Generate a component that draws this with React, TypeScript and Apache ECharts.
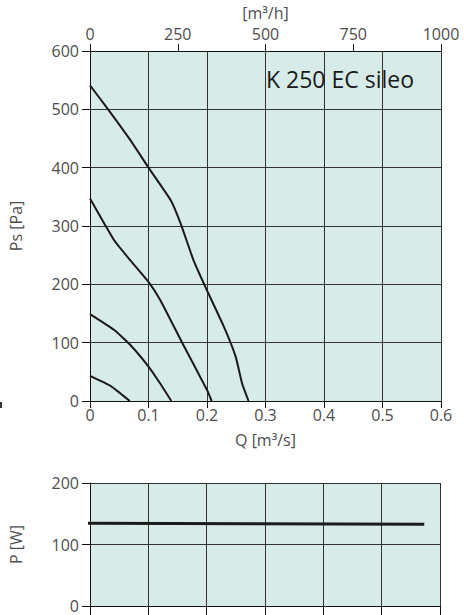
import React, { useEffect, useRef } from "react";
import * as echarts from "echarts";

// Pressure curves: [Q m³/s, Ps Pa]
const curve1: number[][] = [[0, 541], [0.03, 501], [0.069, 447], [0.1, 400], [0.138, 344], [0.155, 304], [0.177, 241], [0.197, 196], [0.229, 127], [0.249, 76], [0.26, 30], [0.271, 0]];
const curve2: number[][] = [[0, 347], [0.041, 276], [0.069, 241], [0.1, 204], [0.12, 173], [0.158, 99], [0.2, 19], [0.208, 0]];
const curve3: number[][] = [[0, 149], [0.041, 122], [0.069, 96], [0.1, 59], [0.12, 30], [0.139, 0]];
const curve4: number[][] = [[0, 43], [0.035, 26], [0.052, 13], [0.068, 0]];
// Power curve: [Q m³/s, P W]
const power: number[][] = [[-0.005, 134.5], [0.573, 133]];

const qTicks = { min: 0, max: 0.6, interval: 0.1 };
const flowTicks = { min: 0, max: 1000, interval: 250 };
const psTicks = { min: 0, max: 600, interval: 100 };
const pTicks = { min: 0, max: 200, interval: 100 };
const titleText = "K 250 EC sileo";

const FONT = "Open Sans";
const LABEL = "#4d4d4d";
const GRID = "#333";
const BG = "#d7ece8";

export default function App() {
  const ref = useRef<HTMLDivElement>(null);
  useEffect(() => {
    if (!ref.current) return;
    const chart = echarts.init(ref.current, null, { renderer: "svg" });
    const axisLabel = { color: LABEL, fontFamily: FONT, fontSize: 16, formatter: (v: number) => String(v) };
    const lineStyle = { color: "#111", width: 1 };
    const split = { show: true, lineStyle: { color: GRID, width: 1 } };
    const nameStyle = { color: LABEL, fontFamily: FONT, fontSize: 16 };
    const curveSeries = (data: number[][]) => ({
      type: "line",
      xAxisIndex: 0,
      yAxisIndex: 0,
      data,
      symbol: "none",
      smooth: 0.15,
      lineStyle: { color: "#1a1a1a", width: 2 },
    });
    chart.setOption({
      animation: false,
      textStyle: { fontFamily: FONT },
      title: {
        text: titleText,
        left: 261,
        top: 62,
        textStyle: { fontFamily: FONT, fontSize: 23, fontWeight: "normal", color: "#1a1a1a" },
      },
      grid: [
        { left: 89, top: 50, width: 352, height: 351, show: true, backgroundColor: BG, borderWidth: 0 },
        { left: 88, top: 483, width: 352, height: 123, show: true, backgroundColor: BG, borderWidth: 0 },
      ],
      xAxis: [
        {
          type: "value", gridIndex: 0, position: "bottom", ...qTicks,
          name: "Q [m³/s]", nameLocation: "middle", nameGap: 31,
          nameTextStyle: nameStyle,
          axisLine: { show: true, lineStyle },
          axisTick: { show: true, length: 7, lineStyle },
          axisLabel: { ...axisLabel, margin: 6, showMinLabel: true, showMaxLabel: true },
          splitLine: split,
        },
        {
          type: "value", gridIndex: 0, position: "top", ...flowTicks,
          name: "[m³/h]", nameLocation: "middle", nameGap: 26,
          nameTextStyle: nameStyle,
          axisLine: { show: true, lineStyle },
          axisTick: { show: true, length: 7, lineStyle },
          axisLabel: { ...axisLabel, margin: 9, showMinLabel: true, showMaxLabel: true },
          splitLine: { show: false },
        },
        {
          type: "value", gridIndex: 1, position: "bottom", ...qTicks,
          axisLine: { show: true, lineStyle },
          axisTick: { show: true, length: 10, lineStyle },
          axisLabel: { show: false },
          splitLine: split,
        },
      ],
      yAxis: [
        {
          type: "value", gridIndex: 0, ...psTicks,
          name: "Ps [Pa]", nameLocation: "middle", nameGap: 66, nameRotate: 90,
          nameTextStyle: nameStyle,
          axisLine: { show: true, lineStyle },
          axisTick: { show: true, length: 8, lineStyle },
          axisLabel: { ...axisLabel, margin: 11 },
          splitLine: split,
        },
        {
          type: "value", gridIndex: 1, ...pTicks,
          name: "P [W]", nameLocation: "middle", nameGap: 66, nameRotate: 90,
          nameTextStyle: nameStyle,
          axisLine: { show: true, lineStyle },
          axisTick: { show: true, length: 8, lineStyle },
          axisLabel: { ...axisLabel, margin: 11 },
          splitLine: split,
        },
      ],
      graphic: [
        { type: "rect", left: 0, top: 402, shape: { width: 2, height: 6 }, style: { fill: "#333" } },
      ],
      series: [
        curveSeries(curve1),
        curveSeries(curve2),
        curveSeries(curve3),
        curveSeries(curve4),
        {
          type: "line",
          xAxisIndex: 2,
          yAxisIndex: 1,
          data: power,
          symbol: "none",
          clip: false,
          lineStyle: { color: "#1a1a1a", width: 3 },
        },
      ],
    });
    return () => chart.dispose();
  }, []);
  return <div ref={ref} style={{ position: "absolute", left: 0, top: 0, width: 464, height: 615 }} />;
}
